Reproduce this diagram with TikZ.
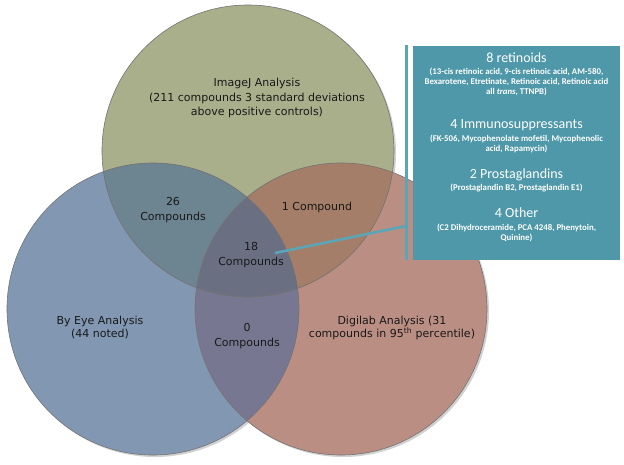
\documentclass[tikz,border=0pt]{standalone}
\usepackage{fontspec}
\setmainfont{DejaVu Sans}
\newfontfamily\boxfont{Carlito}
\definecolor{cg}{HTML}{A9AE8B}
\definecolor{cb}{HTML}{8297B2}
\definecolor{cp}{HTML}{BB8E84}
\definecolor{cbg}{HTML}{6D8590}
\definecolor{cgp}{HTML}{A47E68}
\definecolor{cbp}{HTML}{787791}
\definecolor{call}{HTML}{6B6F82}
\definecolor{tealbox}{HTML}{4E98A9}
\definecolor{tealline}{HTML}{5AA6B7}
\begin{document}
\begin{tikzpicture}[x=1pt,y=-1pt,
  lbl/.style={align=center, font=\fontsize{11}{14.5}\selectfont, text=black!90, inner sep=0pt},
  head/.style={font=\boxfont\fontsize{14}{16}\selectfont, text=white, inner sep=0pt},
  small/.style={font=\boxfont\bfseries\fontsize{8.8}{10}\selectfont, text=white, align=center, inner sep=0pt},
  ring/.style={draw=black!55, line width=0.6pt},
  tline/.style={draw=tealline, line width=2.6pt}]
\useasboundingbox (0,0) rectangle (624,464);
\fill[white] (0,0) rectangle (624,464);
\def\G{(248,151) circle (146)}
\def\B{(153,309) circle (146)}
\def\P{(341,309) circle (146)}
% shadows
\fill[black, opacity=0.18] (250,153) circle (146);
\fill[black, opacity=0.18] (155,311) circle (146);
\fill[black, opacity=0.18] (343,311) circle (146);
% fills
\fill[cg] \G;
\fill[cb] \B;
\fill[cp] \P;
\begin{scope}
  \clip \G;
  \fill[cbg] \B;
  \fill[cgp] \P;
\end{scope}
\begin{scope}
  \clip \B;
  \fill[cbp] \P;
  \clip \G;
  \fill[call] \P;
\end{scope}
\draw[ring] \G;
\draw[ring] \B;
\draw[ring] \P;
% labels
\node[lbl] (imagej) at (257,98) {ImageJ Analysis\\(211 compounds 3 standard deviations\\above positive controls)};
\node[lbl] (c26) at (173,210) {26\\Compounds};
\node[lbl] (c1) at (317,207) {1 Compound};
\node[lbl] (c18) at (251,255) {18\\Compounds};
\node[lbl, font=\fontsize{11}{13}\selectfont] (byeye) at (100,328) {By Eye Analysis\\(44 noted)};
\node[lbl] (c0) at (247,336) {0\\Compounds};
\node[lbl, font=\fontsize{11}{13}\selectfont] (digi) at (392,328) {Digilab Analysis (31\\compounds in 95\textsuperscript{th} percentile)};
% panel
\node[fill=tealbox, minimum width=207pt, minimum height=214pt, anchor=north west, inner sep=0pt] (panel) at (413,46) {};
\coordinate (vtop) at (406.5,45);
\coordinate (vbot) at (406.5,260);
\draw[tline] (vtop) -- (vbot);
\coordinate (linkstart) at (275,253);
\coordinate (linkend) at (406,226);
\draw[tline] (linkstart) -- (linkend);
\node[head] (h1) at (516.5,58) {8 retinoids};
\node[small] (s1) at (516.5,82) {(13-cis retinoic acid, 9-cis retinoic acid, AM-580,\\Bexarotene, Etretinate, Retinoic acid, Retinoic acid\\all \textit{trans}, TTNPB)};
\node[head] (h2) at (516.5,125) {4 Immunosuppressants};
\node[small] (s2) at (516.5,144) {(FK-506, Mycophenolate mofetil, Mycophenolic\\acid, Rapamycin)};
\node[head] (h3) at (516.5,175) {2 Prostaglandins};
\node[small] (s3) at (516.5,188) {(Prostaglandin B2, Prostaglandin E1)};
\node[head] (h4) at (516.5,213) {4 Other};
\node[small] (s4) at (516.5,233) {(C2 Dihydroceramide, PCA 4248, Phenytoin,\\Quinine)};
\end{tikzpicture}
\end{document}
